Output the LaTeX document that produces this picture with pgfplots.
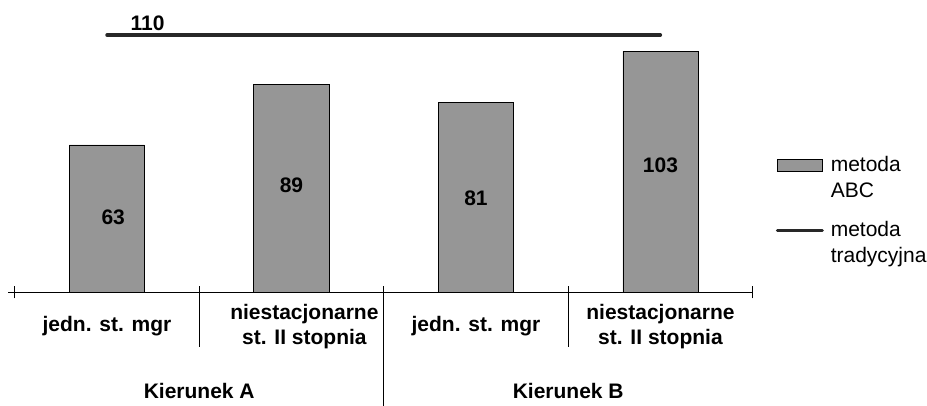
\documentclass[border=0pt]{standalone}
\usepackage{fontspec}
\setmainfont{Liberation Sans}
\usepackage{pgfplots}
\pgfplotsset{compat=1.18}
\definecolor{barfill}{RGB}{150,150,150}
\definecolor{linec}{RGB}{40,40,40}
\newcommand{\chartfont}{\fontsize{21}{25}\selectfont}
\newcommand{\legfont}{\fontsize{21}{26}\selectfont}
\begin{document}
\chartfont
\begin{tikzpicture}
\path[use as bounding box] (-14.7pt,-113.7pt) rectangle (912.3pt,292.3pt);
\begin{axis}[
  at={(0pt,0pt)}, anchor=south west,
  scale only axis, width=738pt, height=280.6pt,
  xmin=-0.5, xmax=3.5, ymin=0, ymax=120,
  axis y line=none, axis x line*=bottom,
  x axis line style={line width=0.8pt},
  xtick={-0.5,0.5,1.5,2.5,3.5}, xticklabels={,,,,},
  major tick length=12pt, tick align=center,
  tick style={black, line width=0.8pt},
  extra x ticks={0,1.07,2,3},
  extra x tick labels={jedn. st. mgr,{niestacjonarne\\st. II stopnia},jedn. st. mgr,{niestacjonarne\\st. II stopnia}},
  extra x tick style={major tick length=0pt,
    tick label style={anchor=center, yshift=-34pt, align=center, font=\chartfont\bfseries}},
  clip=false,
  legend style={at={(1.0310,0.4986)}, anchor=north west, draw=none, fill=none,
    font=\legfont, cells={align=left, anchor=west}, row sep=16pt, column sep=5pt,
    inner xsep=0pt},
]
\addplot[ybar, bar width=75pt, fill=barfill, draw=black, line width=0.9pt,
  legend image code/.code={\draw[fill=barfill, draw=black, line width=0.9pt] (0pt,7pt) rectangle (45pt,19pt);}]
  coordinates {(0,63) (1,89) (2,81) (3,103)};
\addlegendentry{metoda\\ABC}
\addplot[linec, line width=3.3pt, line cap=round,
  legend image code/.code={\draw[linec, line width=3pt] (0pt,13pt) -- (45pt,13pt);}]
  coordinates {(0,110) (3,110)};
\addlegendentry{metoda\\tradycyjna}
\addplot[draw=none, mark=none, nodes near coords, point meta=explicit symbolic,
  nodes near coords style={anchor=center, font=\chartfont\bfseries}, forget plot]
  coordinates {(0.034,32.2)[63] (1,45.9)[89] (2,40.3)[81] (3,54.5)[103]};
\node[font=\chartfont\bfseries, anchor=center] at (axis cs:0.2198,110) [yshift=12pt] {110};
\draw[line width=0.8pt] (axis cs:0.5,0) -- ++(0pt,-55pt);
\draw[line width=0.8pt] (axis cs:2.5,0) -- ++(0pt,-55pt);
\draw[line width=0.8pt] (axis cs:1.5,0) -- ++(0pt,-113.7pt);
\draw[line width=0.8pt] (axis cs:-0.5,0) -- ++(-7pt,0pt);
\node[font=\chartfont\bfseries] at (axis cs:0.5,0) [yshift=-99pt] {Kierunek A};
\node[font=\chartfont\bfseries] at (axis cs:2.5,0) [yshift=-99pt] {Kierunek B};
\end{axis}
\end{tikzpicture}
\end{document}
